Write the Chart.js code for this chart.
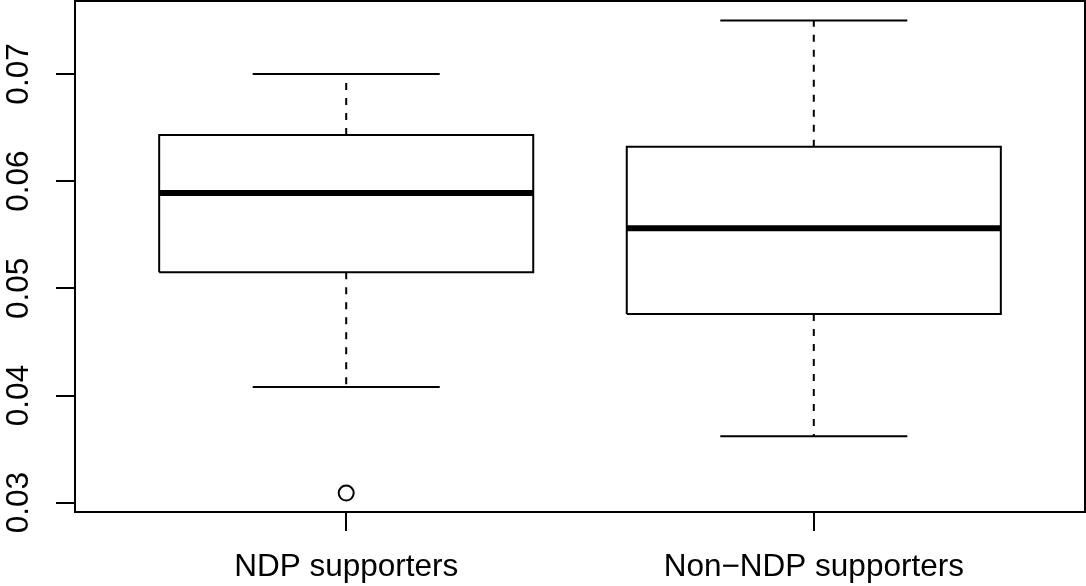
<!DOCTYPE html>
<html>
<head>
<meta charset="utf-8">
<script src="https://cdn.jsdelivr.net/npm/chart.js@4/dist/chart.umd.min.js"></script>
<style>
  html, body { margin: 0; padding: 0; background: #fff; }
  #wrap { width: 1086px; height: 586px; }
</style>
</head>
<body>
<div id="wrap"><canvas id="boxChart" width="1086" height="586"></canvas></div>
<script>
// box plot values
const groups = ['NDP supporters', 'Non\u2212NDP supporters'];
const whiskerLow = [0.0408, 0.0362];
const quartile1 = [0.0515, 0.0476];
const medians = [0.0589, 0.0556];
const quartile3 = [0.0643, 0.0632];
const whiskerHigh = [0.0700, 0.0750];
const outlierGroup = [1];
const outlierValues = [0.0309];
const yTicks = [0.03, 0.04, 0.05, 0.06, 0.07];

const boxHalf = 0.4;
const capHalf = 0.2;

function seg(points, width, dash) {
    return {
        type: 'line',
        data: points,
        borderColor: '#000',
        borderWidth: width,
        borderDash: dash || [],
        borderCapStyle: 'butt',
        pointRadius: 0,
        showLine: true,
        tension: 0,
        fill: false
    };
}

// build line datasets for each box
const datasets = [];
groups.forEach((g, i) => {
    const x = i + 1;
    datasets.push(seg([{x: x, y: quartile3[i]}, {x: x, y: whiskerHigh[i]}], 2, [7, 8]));
    datasets.push(seg([{x: x, y: quartile1[i]}, {x: x, y: whiskerLow[i]}], 2, [7, 8]));
    datasets.push(seg([{x: x - capHalf, y: whiskerHigh[i]}, {x: x + capHalf, y: whiskerHigh[i]}], 2));
    datasets.push(seg([{x: x - capHalf, y: whiskerLow[i]}, {x: x + capHalf, y: whiskerLow[i]}], 2));
    datasets.push(seg([
        {x: x - boxHalf, y: quartile1[i]}, {x: x + boxHalf, y: quartile1[i]},
        {x: x + boxHalf, y: quartile3[i]}, {x: x - boxHalf, y: quartile3[i]},
        {x: x - boxHalf, y: quartile1[i]}
    ], 2));
    datasets.push(seg([{x: x - boxHalf, y: medians[i]}, {x: x + boxHalf, y: medians[i]}], 6));
});

// outliers
datasets.push({
    type: 'scatter',
    data: outlierValues.map((v, k) => ({x: outlierGroup[k], y: v})),
    pointStyle: 'circle',
    pointRadius: 7.5,
    pointBorderWidth: 2,
    pointBorderColor: '#000',
    pointBackgroundColor: 'rgba(0,0,0,0)'
});

// frame around plot region
const frame = {
    id: 'frame',
    afterDraw(chart) {
        const a = chart.chartArea;
        const ctx = chart.ctx;
        ctx.save();
        ctx.strokeStyle = '#000';
        ctx.lineWidth = 2;
        ctx.strokeRect(a.left, a.top, a.right - a.left, a.bottom - a.top);
        ctx.restore();
    }
};

const font = { family: '"Liberation Sans", Arial, sans-serif', size: 31.5 };

new Chart(document.getElementById('boxChart'), {
    type: 'scatter',
    data: { datasets: datasets },
    plugins: [frame],
    options: {
        responsive: false,
        animation: false,
        layout: { autoPadding: false, padding: { top: 1, right: 1, left: 0, bottom: 0 } },
        plugins: { legend: { display: false }, tooltip: { enabled: false } },
        scales: {
            x: {
                type: 'linear',
                min: 0.42,
                max: 2.58,
                afterBuildTicks: axis => { axis.ticks = groups.map((g, i) => ({ value: i + 1 })); },
                afterFit: axis => { axis.height = 74; axis.paddingLeft = 0; axis.paddingRight = 0; },
                ticks: {
                    color: '#000',
                    font: font,
                    padding: 17,
                    maxRotation: 0,
                    callback: v => groups[v - 1]
                },
                grid: { drawOnChartArea: false, drawTicks: true, tickLength: 19, color: '#000', lineWidth: 2 },
                border: { display: false }
            },
            y: {
                min: 0.02913,
                max: 0.07681,
                afterBuildTicks: axis => { axis.ticks = yTicks.map(v => ({ value: v })); },
                afterFit: axis => { axis.width = 75; axis.paddingTop = 0; axis.paddingBottom = 0; },
                ticks: {
                    color: '#000',
                    font: font,
                    padding: 6,
                    minRotation: 90,
                    maxRotation: 90,
                    crossAlign: 'center',
                    callback: v => v.toFixed(2)
                },
                grid: { drawOnChartArea: false, drawTicks: true, tickLength: 19, color: '#000', lineWidth: 2 },
                border: { display: false }
            }
        }
    }
});
</script>
</body>
</html>
